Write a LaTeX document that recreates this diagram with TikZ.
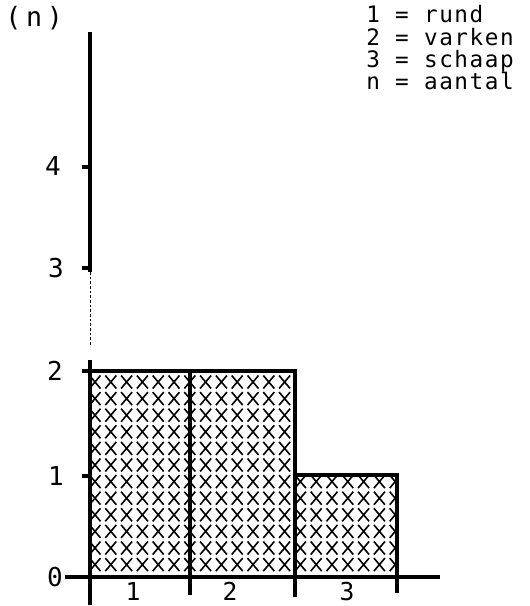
\documentclass[tikz,border=0pt]{standalone}
\usepackage{fontspec}
\newfontfamily\legfont[LetterSpace=7]{DejaVu Sans Mono}
\newfontfamily\nfont[LetterSpace=18]{DejaVu Sans Mono}
\newfontfamily\digfont{DejaVu Sans Mono}
\begin{document}
\begin{tikzpicture}[x=0.75pt,y=-0.75pt,
  axisline/.style={line width=2.4pt},
  barline/.style={line width=2.6pt},
  tickline/.style={line width=2.4pt},
  thinaxis/.style={line width=0.7pt,dash pattern=on 2pt off 1.5pt},
  digit/.style={font=\digfont\fontsize{19.5}{19.5}\selectfont,inner sep=0pt},
  xdigit/.style={font=\digfont\fontsize{18.5}{18.5}\selectfont,inner sep=0pt,text depth=0pt,anchor=base},
  legend/.style={font=\legfont\fontsize{17}{17}\selectfont,inner sep=0pt,anchor=base west},
  crossline/.style={line width=1.2pt}]
\useasboundingbox (0,0) rectangle (530,606);
% coordinates
\coordinate (ytop) at (90,32);
\coordinate (ya) at (90,272);
\coordinate (yb) at (90,345);
\coordinate (yc) at (90,360);
\coordinate (ybot) at (90,605);
\coordinate (xl) at (65,577);
\coordinate (xr) at (440,577);
% hatch
\begin{scope}
  \clip (90,371) rectangle (295,577) (295,475) rectangle (397,577);
  \foreach \i in {0,...,19}{
    \foreach \j in {0,...,11}{
      \pgfmathsetmacro{\cx}{95+15.8*\i}
      \pgfmathsetmacro{\cy}{382+16.6*\j}
      \draw[crossline] (\cx-5.5,\cy-6.5) -- (\cx+5.5,\cy+6.5) (\cx-5.5,\cy+6.5) -- (\cx+5.5,\cy-6.5);
    }
  }
\end{scope}
% axes
\draw[axisline] (ytop) -- (ya);
\draw[thinaxis] (ya) -- (yb);
\draw[axisline] (yc) -- (ybot);
\draw[axisline] (xl) -- (xr);
% bars
\coordinate (b1tl) at (90,371);
\coordinate (b2tl) at (190,371);
\coordinate (b2tr) at (295,371);
\coordinate (b1b) at (190,595);
\coordinate (b2b) at (295,597);
\coordinate (b3tl) at (295,475);
\coordinate (b3tr) at (397,475);
\coordinate (b3b) at (397,593);
\draw[barline] (82,371) -- (b2tr) -- (b2b);
\draw[barline] (b2tl) -- (b1b);
\draw[barline] (b3tl) -- (b3tr) -- (b3b);
% y ticks
\foreach \v/\yy in {0/577,1/476,2/371,3/268,4/167}{
  \coordinate (yt\v) at (82,\yy);
  \coordinate (ys\v) at (90,\yy);
  \draw[tickline] (yt\v) -- (ys\v);
}
% y labels
\node[digit] (l0) at (55,577) {0};
\node[digit] (l1) at (56,476) {1};
\node[digit] (l2) at (55,371) {2};
\node[digit] (l3) at (56,268) {3};
\node[digit] (l4) at (53,166) {4};
% x labels
\node[xdigit] (c1) at (133,600) {1};
\node[xdigit] (c2) at (230,600) {2};
\node[xdigit] (c3) at (347,600) {3};
% n label
\node[font=\nfont\fontsize{20}{20}\selectfont,inner sep=0pt,anchor=base west] (nlab) at (5,27) {(n)};
% legend
\node[legend] (g1) at (366,23) {1 = rund};
\node[legend] (g2) at (366,46) {2 = varken};
\node[legend] (g3) at (366,68) {3 = schaap};
\node[legend] (g4) at (366,90) {n = aantal};
\end{tikzpicture}
\end{document}
